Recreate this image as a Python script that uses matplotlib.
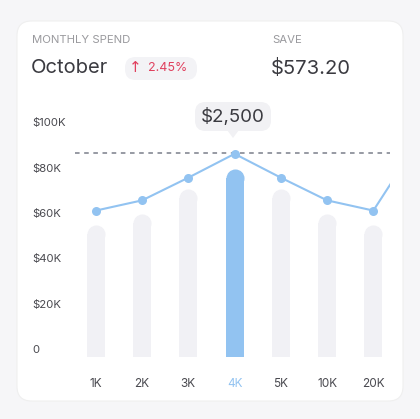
import matplotlib
matplotlib.use("Agg")
import matplotlib.pyplot as plt
from matplotlib.patches import FancyBboxPatch, Polygon
from matplotlib.transforms import blended_transform_factory

categories = ["1K", "2K", "3K", "4K", "5K", "10K", "20K"]
bar_values = [58, 63, 74, 83, 74, 63, 58]          # in $K
line_values = [64.5, 69, 79, 89.5, 79, 69, 64.5, 96]  # last point continues off-chart
ref_value = 90
highlight = 3
y_ticks = [0, 20, 40, 60, 80, 100]
y_labels = ["0", "$20K", "$40K", "$60K", "$80K", "$100K"]

W, H = 420, 419
fig = plt.figure(figsize=(W/100, H/100), dpi=100)
fig.patch.set_facecolor("#f6f6f8")
card = FancyBboxPatch((17/W, 18/H), 386/W, 380/H, boxstyle="round,pad=0,rounding_size=0.035",
                      transform=fig.transFigure, facecolor="white", edgecolor="#efefef", lw=0.8, zorder=-5)
fig.patches.append(card)

def fx(px): return px / W
def fy(py): return 1 - py / H

fam = ["Inter", "DejaVu Sans"]
fig.text(fx(32), fy(40), "M O N T H L Y   S P E N D".replace(" ", "\u200a") if False else "MONTHLY SPEND",
         fontsize=8.2, color="#9a9a9e", family=fam, va="center")
fig.text(fx(272), fy(40), "SAVE", fontsize=8.2, color="#9a9a9e", family=fam, va="center")
fig.text(fx(31), fy(68), "October", fontsize=14.5, color="#3a3a40", family=fam, va="center")
fig.text(fx(271), fy(68), "$573.20", fontsize=14.5, color="#3a3a40", family=fam, va="center")
badge = FancyBboxPatch((fx(125), fy(80)), 72/W, 23/H, boxstyle="round,pad=0,rounding_size=0.025",
                       transform=fig.transFigure, facecolor="#f3f3f6", edgecolor="none", zorder=-4)
fig.patches.append(badge)
fig.text(fx(135), fy(68), "↑", fontsize=11, color="#e0405e", family=["DejaVu Sans"], va="center", ha="center")
fig.text(fx(148), fy(68), "2.45%", fontsize=9, color="#e0405e", family=fam, va="center")

ax = fig.add_axes([fx(75), fy(357), (390-75)/W, (357-120)/H])
ax.set_facecolor("none")
ax.set_xlim(-0.45, 6.36)
ax.set_ylim(0, (357-120)/2.27)
for s in ax.spines.values():
    s.set_visible(False)

xs = list(range(len(categories)))
r_k = 9 / 2.27
for i, v in enumerate(bar_values):
    c = "#92c3f1" if i == highlight else "#f1f1f5"
    ax.bar(i, v - r_k, width=0.39, color=c, zorder=1)
    ax.plot(i, v - r_k, "o", ms=13, color=c, mec="none", zorder=1)

ax.axhline(ref_value, color="#7a7f8a", lw=1.1, ls=(0, (3, 3)), zorder=2)
ax.plot(range(len(line_values)), line_values, color="#92c3f1", lw=1.5, zorder=3,
        marker="o", ms=6.5, mew=0)

ax.set_xticks(xs)
ax.set_xticklabels(categories, fontsize=8.5, family=fam)
for i, t in enumerate(ax.get_xticklabels()):
    t.set_color("#92c3f1" if i == highlight else "#4a4a50")
ax.tick_params(axis="x", length=0, pad=15)
ax.set_yticks([])
tr = blended_transform_factory(fig.transFigure, ax.transData)
for v, lab in zip(y_ticks, y_labels):
    ax.text(fx(32), v + 3, lab, transform=tr, fontsize=8.2, color="#4a4a50",
            family=fam, va="center", ha="left")

# tooltip
tip = FancyBboxPatch((fx(195), fy(131)), 76/W, 29/H, boxstyle="round,pad=0,rounding_size=0.025",
                     transform=fig.transFigure, facecolor="#f1f1f4", edgecolor="none", zorder=10)
fig.patches.append(tip)
fig.patches.append(Polygon([(fx(227), fy(130)), (fx(239), fy(130)), (fx(233), fy(138))],
                           closed=True, transform=fig.transFigure, facecolor="#f1f1f4",
                           edgecolor="none", zorder=10))
fig.text(fx(233), fy(117), "$2,500", fontsize=13.5, color="#3a3a40", family=fam,
         va="center", ha="center", zorder=11)

fig.savefig("out.png", dpi=100)
